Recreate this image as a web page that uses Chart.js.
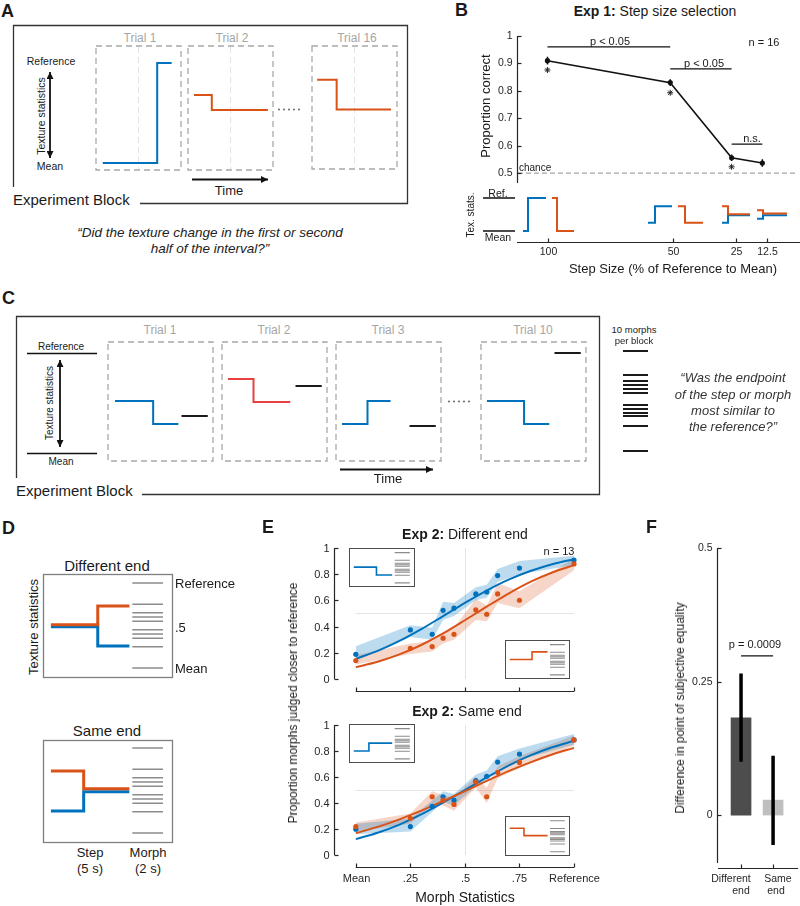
<!DOCTYPE html>
<html>
<head>
<meta charset="utf-8">
<script src="https://cdn.jsdelivr.net/npm/chart.js@4.4.1/dist/chart.umd.min.js"></script>
<style>
body { margin: 0; background: #fff; }
#fig { position: relative; width: 800px; height: 906px; overflow: hidden; background: #fff;
  font-family: "Liberation Sans", Arial, Helvetica, sans-serif; color: #1a1a1a; }
#fig canvas, #fig svg, .t, .inset { position: absolute; }
.t { white-space: nowrap; line-height: 1; }
.inset { border: 1.5px solid #4d4d4d; background: #fff; box-sizing: border-box; }
</style>
</head>
<body>
<div id="fig">
<svg width="800" height="906" style="left:0;top:0">
  <defs>
    <marker id="ah" markerUnits="userSpaceOnUse" viewBox="0 0 10 10" refX="10" refY="5"
      markerWidth="8" markerHeight="7" orient="auto-start-reverse">
      <path d="M0 0L10 5L0 10z" fill="#111"/>
    </marker>
  </defs>
  <g fill="none" stroke="#333" stroke-width="1.3">
    <path d="M13.5 187V25.5H407.5V203.5H140"/>
    <path d="M16.5 478V316.5H599.5V494.5H142"/>
  </g>
  <g fill="none" stroke="#a8a8a8" stroke-width="1.3" stroke-dasharray="6 4">
    <rect x="96" y="46" width="85" height="124"/>
    <rect x="188" y="46" width="85" height="124"/>
    <rect x="312" y="46" width="85" height="123"/>
    <rect x="108" y="342" width="105" height="119"/>
    <rect x="222" y="342" width="105" height="119"/>
    <rect x="336" y="342" width="105" height="119"/>
    <rect x="481" y="342" width="105" height="119"/>
  </g>
  <path d="M138.5 47V169M230.5 47V169M354.5 47V168" stroke="#e3e3e3" stroke-width="1" stroke-dasharray="6 4"/>
  <path d="M279 109.5H304M449 401.5H474" stroke="#555" stroke-width="1.8" stroke-linecap="round" stroke-dasharray="0 5"/>
  <g stroke="#111" stroke-width="1.8" fill="none">
    <line x1="50" y1="72" x2="50" y2="158" marker-start="url(#ah)" marker-end="url(#ah)"/>
    <line x1="192" y1="179.5" x2="268" y2="179.5" marker-end="url(#ah)"/>
    <line x1="60" y1="360" x2="60" y2="447" marker-start="url(#ah)" marker-end="url(#ah)"/>
    <line x1="340" y1="469.5" x2="433" y2="469.5" marker-end="url(#ah)"/>
  </g>
  <path d="M27 353.5H97M27 453.5H97M483 198H515M483 231H515" stroke="#111" stroke-width="1.5"/>
  <g fill="none" stroke="#7f7f7f" stroke-width="1.3">
    <rect x="43.5" y="574.5" width="129" height="103"/>
    <rect x="43.5" y="740.5" width="129" height="102"/>
  </g>
</svg>
</div>
<script>
// ---- data ----
// A: trials (time as fraction of trial, 0 = Mean, 1 = Reference)
const aStart = [0.08, 0.07, 0.06];
const aStep = [0.72, 0.28, 0.29];
const aEnd = [0.89, 0.94, 0.93];
const aBefore = [0, 0.68, 0.83];
const aAfter = [1, 0.53, 0.53];

// B: step size selection
const bStepSize = [100, 50, 25, 12.5];
const bTickLabels = ['100', '50', '25', '12.5'];
const bCorrect = [0.91, 0.83, 0.556, 0.537];
const bErr = [0.014, 0.012, 0.012, 0.014];
const bStarAt = [0.876, 0.793, 0.523];
const bSigFrom = [100, 50, 25];
const bSigTo = [50, 25, 12.5];
const bSigY = [0.96, 0.88, 0.606];
const bYTicks = [0.5, 0.6, 0.7, 0.8, 0.9, 1];
const bYLabels = ['0.5', '0.6', '0.7', '0.8', '0.9', '1'];
const bIconBlueX = [[110, 108, 100.8], [60, 57.2, 50.4], [30.4, 28, 19.2], [16.4, 14, 4.4]];
const bIconOrangeX = [[98.4, 96.4, 89.6], [48, 45.2, 38], [30.4, 28, 19.2], [16.4, 14, 4.4]];
const bIconBlue = [[0, 1], [0.25, 0.75], [0.25, 0.48], [0.375, 0.48]];
const bIconOrange = [[1, 0], [0.75, 0.25], [0.75, 0.51], [0.625, 0.53]];

// C: trials
const cStart = [0.067, 0.057, 0.057, 0.057];
const cStep = [0.43, 0.30, 0.30, 0.41];
const cEnd = [0.67, 0.65, 0.52, 0.65];
const cBefore = [0.52, 0.74, 0.29, 0.52];
const cAfter = [0.29, 0.51, 0.52, 0.29];
const cMorph = [0.37, 0.67, 0.27, 1.0];
const cMorphT = [0.70, 0.95];
const blockMorphs = [1, 0.76, 0.70, 0.66, 0.62, 0.58, 0.46, 0.42, 0.38, 0.35, 0.25, 0];

// D: conditions
const dStep = [0.42, 0.31];
const dOrange = [[0.51, 0.73], [0.73, 0.52]];
const dBlue = [[0.485, 0.26], [0.26, 0.485]];

// E: psychometric data
const morphX = [0, 0.25, 0.35, 0.4, 0.45, 0.55, 0.6, 0.65, 0.75, 1];
const eXTicks = [0, 0.25, 0.5, 0.75, 1];
const eXLabels = ['Mean', '.25', '.5', '.75', 'Reference'];
const eYTicks = [0, 0.2, 0.4, 0.6, 0.8, 1];
const eYLabels = ['0', '0.2', '0.4', '0.6', '0.8', '1'];
const fitX = [0, 0.1, 0.2, 0.3, 0.4, 0.5, 0.6, 0.7, 0.8, 0.9, 1];

const diffBlue = [0.188, 0.374, 0.341, 0.524, 0.540, 0.649, 0.664, 0.789, 0.847, 0.908];
const diffBlueLo = [0.145, 0.32, 0.30, 0.45, 0.48, 0.60, 0.62, 0.74, 0.80, 0.87];
const diffBlueHi = [0.25, 0.41, 0.39, 0.59, 0.58, 0.70, 0.72, 0.84, 0.90, 0.94];
const diffBlueFit = [0.153, 0.214, 0.290, 0.380, 0.480, 0.581, 0.675, 0.758, 0.824, 0.876, 0.914];
const diffOrange = [0.140, 0.234, 0.247, 0.311, 0.341, 0.527, 0.494, 0.649, 0.601, 0.878];
const diffOrangeLo = [0.11, 0.19, 0.21, 0.27, 0.30, 0.45, 0.44, 0.58, 0.54, 0.83];
const diffOrangeHi = [0.18, 0.27, 0.29, 0.35, 0.39, 0.61, 0.56, 0.73, 0.67, 0.92];
const diffOrangeFit = [0.090, 0.131, 0.187, 0.259, 0.347, 0.448, 0.552, 0.652, 0.741, 0.813, 0.869];

const sameBlue = [0.198, 0.219, 0.374, 0.448, 0.422, 0.572, 0.605, 0.715, 0.776, 0.885];
const sameBlueLo = [0.16, 0.18, 0.33, 0.41, 0.38, 0.53, 0.57, 0.66, 0.73, 0.85];
const sameBlueHi = [0.24, 0.28, 0.42, 0.49, 0.47, 0.62, 0.65, 0.76, 0.82, 0.93];
const sameBlueFit = [0.122, 0.171, 0.234, 0.312, 0.403, 0.5, 0.597, 0.688, 0.766, 0.829, 0.878];
const sameOrange = [0.219, 0.282, 0.448, 0.422, 0.389, 0.562, 0.448, 0.636, 0.712, 0.885];
const sameOrangeLo = [0.18, 0.24, 0.39, 0.38, 0.34, 0.52, 0.40, 0.59, 0.67, 0.84];
const sameOrangeHi = [0.25, 0.32, 0.49, 0.46, 0.44, 0.60, 0.52, 0.68, 0.76, 0.92];
const sameOrangeFit = [0.168, 0.216, 0.274, 0.341, 0.415, 0.492, 0.570, 0.645, 0.713, 0.773, 0.824];

// E insets
const insetStep = [0.42, 0.42, 0.30, 0.29];
const insetBefore = [0.52, 0.51, 0.26, 0.76];
const insetAfter = [0.26, 0.76, 0.52, 0.52];

// F: PSE difference
const fPos = [1, 2];
const fXLabels = [['Different', 'end'], ['Same', 'end']];
const fPse = [0.182, 0.028];
const fErrLo = [0.10, -0.056];
const fErrHi = [0.265, 0.111];
const fSig = 0.298;
const fYTicks = [0, 0.25, 0.5];
const fYLabels = ['0', '0.25', '0.5'];

// ---- styles ----
const BLUE = '#0072bd', ORANGE = '#d95319', RED = '#e8403f';
const BLUE_BAND = 'rgba(0,114,189,0.26)', ORANGE_BAND = 'rgba(217,83,25,0.24)';

// matlab-like axes: lines only over the tick span, ticks pointing inward
const matAxes = {
  id: 'matAxes',
  beforeDatasetsDraw(chart, args, o) {
    const { ctx, scales: { x, y } } = chart;
    ctx.save();
    ctx.strokeStyle = '#e4e4e4';
    ctx.lineWidth = 1;
    (o.gridX || []).forEach(v => {
      const p = Math.round(x.getPixelForValue(v)) + 0.5;
      ctx.beginPath(); ctx.moveTo(p, y.getPixelForValue(o.y.from)); ctx.lineTo(p, y.getPixelForValue(o.y.to)); ctx.stroke();
    });
    (o.gridY || []).forEach(v => {
      const p = Math.round(y.getPixelForValue(v)) + 0.5;
      ctx.beginPath(); ctx.moveTo(x.getPixelForValue(o.x.from), p); ctx.lineTo(x.getPixelForValue(o.x.to), p); ctx.stroke();
    });
    ctx.restore();
  },
  afterDraw(chart, args, o) {
    const { ctx, chartArea: a, scales: { x, y } } = chart;
    ctx.save();
    ctx.strokeStyle = '#262626';
    ctx.fillStyle = '#262626';
    ctx.lineWidth = 1.2;
    ctx.font = (o.font || 11) + 'px "Liberation Sans", Arial, sans-serif';
    const seg = (x0, y0, x1, y1) => { ctx.beginPath(); ctx.moveTo(x0, y0); ctx.lineTo(x1, y1); ctx.stroke(); };
    if (o.y) {
      const X = Math.round(a.left) + 0.5;
      seg(X, y.getPixelForValue(o.y.from), X, y.getPixelForValue(o.y.to));
      ctx.textAlign = 'right';
      ctx.textBaseline = 'middle';
      o.y.ticks.forEach((v, i) => {
        const p = Math.round(y.getPixelForValue(v)) + 0.5;
        seg(X, p, X + 4, p);
        if (o.y.labels) ctx.fillText(o.y.labels[i], X - 5, p);
      });
    }
    if (o.x) {
      const Y = Math.round(a.bottom) - 0.5;
      seg(x.getPixelForValue(o.x.from), Y, x.getPixelForValue(o.x.to), Y);
      ctx.textAlign = 'center';
      ctx.textBaseline = 'top';
      o.x.ticks.forEach((v, i) => {
        const p = Math.round(x.getPixelForValue(v)) + 0.5;
        seg(p, Y, p, Y - 4);
        if (o.x.labels) ctx.fillText(o.x.labels[i], p, Y + (o.x.gap || 6));
      });
    }
    ctx.restore();
  }
};

const fig = document.getElementById('fig');

function mk(parent, box, range, datasets, pad, axes, type) {
  const c = document.createElement('canvas');
  c.width = box[2];
  c.height = box[3];
  c.style.left = box[0] + 'px';
  c.style.top = box[1] + 'px';
  parent.appendChild(c);
  return new Chart(c, {
    type: type || 'line',
    data: { datasets },
    options: {
      responsive: false,
      animation: false,
      events: [],
      layout: { padding: pad || 0 },
      plugins: { legend: { display: false }, tooltip: { enabled: false }, matAxes: axes || {} },
      scales: {
        x: { type: 'linear', display: false, offset: false, min: range[0], max: range[1], reverse: !!range[4] },
        y: { type: 'linear', display: false, min: range[2], max: range[3] }
      }
    },
    plugins: [matAxes]
  });
}

const L = (pts, color, w, extra) => Object.assign({
  type: 'line', data: pts, borderColor: color, borderWidth: w, pointRadius: 0,
  fill: false, tension: 0, clip: false
}, extra || {});
const xy = (xs, ys) => xs.map((x, i) => ({ x, y: ys[i] }));
const step = (t0, ts, t1, a, b) => [{ x: t0, y: a }, { x: ts, y: a }, { x: ts, y: b }, { x: t1, y: b }];
const hl = (vals, x0, x1) => vals.flatMap(v => [{ x: x0, y: v }, { x: x1, y: v }, { x: x1, y: null }]);

// ---- A ----
const aBoxes = [[96, 46, 85, 124], [188, 46, 85, 124], [312, 46, 85, 123]];
const aColor = [BLUE, ORANGE, ORANGE];
aBoxes.forEach((b, i) => mk(fig, b, [0, 1, -0.07, 1.17],
  [L(step(aStart[i], aStep[i], aEnd[i], aBefore[i], aAfter[i]), aColor[i], 2)]));

// ---- B ----
const B_X = [-0.8, 112.4];
mk(fig, [440, 25, 360, 165], [B_X[0], B_X[1], 0.464, 1, true], [
  L(bSigFrom.flatMap((f, i) => [{ x: f, y: bSigY[i] }, { x: bSigTo[i], y: bSigY[i] }, { x: bSigTo[i], y: null }]), '#111', 1.2),
  L(xy(bStepSize, bCorrect), '#111', 1.6, { pointRadius: 2.6, pointBackgroundColor: '#111', pointBorderWidth: 0 }),
  L(bStepSize.flatMap((s, i) => [{ x: s, y: bCorrect[i] - bErr[i] }, { x: s, y: bCorrect[i] + bErr[i] }, { x: s, y: null }]), '#111', 1.5),
  L(xy(bStepSize.slice(0, 3), bStarAt), '#222', 0, { showLine: false, pointStyle: 'star', pointRadius: 3, pointBorderColor: '#222', pointBorderWidth: 1 }),
  L([{ x: B_X[0], y: 0.5 }, { x: B_X[1], y: 0.5 }], '#a6a6a6', 1.2, { borderDash: [5, 3] })
], { left: 77, right: 0, top: 11, bottom: 7 },
  { font: 10.5, y: { from: 0.464, to: 1, ticks: bYTicks, labels: bYLabels } });

const bIcons = [];
bStepSize.forEach((s, i) => {
  const bx = bIconBlueX[i], ox = bIconOrangeX[i];
  bIcons.push(L(step(ox[0], ox[1], ox[2], bIconOrange[i][0], bIconOrange[i][1]), ORANGE, 2));
  bIcons.push(L(step(bx[0], bx[1], bx[2], bIconBlue[i][0], bIconBlue[i][1]), BLUE, 2));
});
mk(fig, [440, 185, 360, 80], [B_X[0], B_X[1], -0.36, 1.24, true], bIcons,
  { left: 77, right: 0, top: 5, bottom: 22 },
  { font: 10.5, x: { from: B_X[1], to: B_X[0], ticks: bStepSize, labels: bTickLabels, gap: 4 } });

// ---- C ----
const cBoxes = [[108, 342, 105, 119], [222, 342, 105, 119], [336, 342, 105, 119], [481, 342, 105, 119]];
const cColor = [BLUE, RED, BLUE, BLUE];
cBoxes.forEach((b, i) => mk(fig, b, [0, 1, -0.08, 1.11], [
  L(step(cStart[i], cStep[i], cEnd[i], cBefore[i], cAfter[i]), cColor[i], 2),
  L([{ x: cMorphT[0], y: cMorph[i] }, { x: cMorphT[1], y: cMorph[i] }], '#1a1a1a', 2)
]));
mk(fig, [623, 345, 25, 112], [0, 1, -0.06, 1.06], [L(hl(blockMorphs, 0, 1), '#1a1a1a', 2)]);

// ---- D ----
const dBoxes = [[44, 575, 128, 102], [44, 741, 128, 101]];
const dRange = [[0, 1, -0.106, 1.094], [0, 1, -0.106, 1.082]];
dBoxes.forEach((b, i) => mk(fig, b, dRange[i], [
  L(step(0.054, dStep[i], 0.667, dOrange[i][0], dOrange[i][1]), ORANGE, 3),
  L(step(0.054, dStep[i], 0.667, dBlue[i][0], dBlue[i][1]), BLUE, 3),
  L(hl(morphX, 0.69, 0.93), '#8c8c8c', 1.4)
]));

// ---- E ----
function eSets(blue, blueLo, blueHi, blueFit, orange, orLo, orHi, orFit) {
  const pts = c => ({ showLine: false, pointRadius: 2.6, pointBackgroundColor: c, pointBorderWidth: 0, order: 1 });
  return [
    L(xy(morphX, orange), 'transparent', 0, pts(ORANGE)),
    L(xy(morphX, blue), 'transparent', 0, pts(BLUE)),
    L(xy(fitX, orFit), ORANGE, 2, { cubicInterpolationMode: 'monotone', order: 2 }),
    L(xy(fitX, blueFit), BLUE, 2, { cubicInterpolationMode: 'monotone', order: 2 }),
    L(xy(morphX, blueHi), 'transparent', 0, { fill: '+1', backgroundColor: BLUE_BAND, order: 3 }),
    L(xy(morphX, blueLo), 'transparent', 0, { order: 3 }),
    L(xy(morphX, orHi), 'transparent', 0, { fill: '+1', backgroundColor: ORANGE_BAND, order: 3 }),
    L(xy(morphX, orLo), 'transparent', 0, { order: 3 })
  ];
}
const eAxes = lbl => ({
  y: { from: 0, to: 1, ticks: eYTicks, labels: eYLabels },
  x: { from: 0, to: 1, ticks: eXTicks, labels: lbl, gap: 6 },
  gridX: [0.5], gridY: [0.5]
});
mk(fig, [220, 540, 400, 165], [-0.1, 1, -0.1, 1],
  eSets(diffBlue, diffBlueLo, diffBlueHi, diffBlueFit, diffOrange, diffOrangeLo, diffOrangeHi, diffOrangeFit),
  { left: 114, right: 46, top: 8, bottom: 13 }, eAxes(null));
mk(fig, [220, 717, 400, 185], [-0.1, 1, -0.1, 1],
  eSets(sameBlue, sameBlueLo, sameBlueHi, sameBlueFit, sameOrange, sameOrangeLo, sameOrangeHi, sameOrangeFit),
  { left: 114, right: 46, top: 8, bottom: 34 }, eAxes(eXLabels));

const insetBoxes = [[349, 548, 66, 39], [505, 640, 65, 39], [349, 724, 66, 39], [505, 816, 65, 40]];
const insetColor = [BLUE, ORANGE, BLUE, ORANGE];
insetBoxes.forEach((b, i) => {
  const d = document.createElement('div');
  d.className = 'inset';
  d.style.cssText = `left:${b[0]}px;top:${b[1]}px;width:${b[2]}px;height:${b[3]}px`;
  fig.appendChild(d);
  mk(d, [0, 0, b[2] - 3, b[3] - 3], [0, 1, -0.07, 1.12], [
    L(step(0.06, insetStep[i], 0.67, insetBefore[i], insetAfter[i]), insetColor[i], 1.6),
    L(hl(morphX, 0.71, 0.95), '#8c8c8c', 1.1)
  ]);
});

// ---- F ----
mk(fig, [600, 540, 200, 366], [0.25, 2.84, -0.101, 0.5], [
  L([{ x: fPos[0], y: fSig }, { x: fPos[1], y: fSig }], '#111', 1.2, { order: 0 }),
  L(fPos.flatMap((p, i) => [{ x: p, y: fErrLo[i] }, { x: p, y: fErrHi[i] }, { x: p, y: null }]), '#000', 3.5, { order: 1 }),
  { type: 'bar', data: xy(fPos, fPse), backgroundColor: ['#4d4d4d', '#bfbfbf'], barThickness: 20, order: 2 }
], { left: 117, right: 0, top: 8, bottom: 37 },
  { font: 10.5, y: { from: -0.09, to: 0.5, ticks: fYTicks, labels: fYLabels },
    x: { from: 0.28, to: 2.78, ticks: fPos } }, 'bar');

// ---- text ----
function T(html, x, y, o = {}) {
  const d = document.createElement('div');
  d.className = 't';
  d.innerHTML = html;
  const tx = o.a === 'l' ? '0' : o.a === 'r' ? '-100%' : '-50%';
  d.style.cssText = `left:${x}px;top:${y}px;font-size:${o.s || 12}px;` +
    (o.b ? 'font-weight:bold;' : '') + (o.i ? 'font-style:italic;' : '') + (o.c ? `color:${o.c};` : '') +
    (o.r ? 'writing-mode:vertical-rl;transform:translate(-50%,-50%) rotate(180deg)' : `transform:translate(${tx},-50%)`);
  fig.appendChild(d);
}
const GRAY = '#a6a6a6';

// A
T('A', 1, 11, { s: 18, b: 1, a: 'l' });
T('Trial 1', 140, 38, { s: 12, c: GRAY });
T('Trial 2', 232, 38, { s: 12, c: GRAY });
T('Trial 16', 357, 38, { s: 12, c: GRAY });
T('Reference', 51, 61, { s: 10.5 });
T('Mean', 50, 166, { s: 10.5 });
T('Texture statistics', 41, 116, { s: 10.5, r: 1 });
T('Time', 229, 190, { s: 13 });
T('Experiment Block', 13, 199, { s: 15, a: 'l' });
T('“Did the texture change in the first or second', 210, 233, { s: 13.5, i: 1, c: '#222' });
T('half of the interval?”', 210, 249, { s: 13.5, i: 1, c: '#222' });

// B
T('B', 455, 10, { s: 18, b: 1, a: 'l' });
T('<b>Exp 1:</b> Step size selection', 655, 11, { s: 14 });
T('Proportion correct', 485, 106, { s: 13, r: 1 });
T('n = 16', 764, 42, { s: 11 });
T('p &lt; 0.05', 610, 41, { s: 11 });
T('p &lt; 0.05', 704, 63, { s: 11 });
T('n.s.', 752, 138, { s: 11 });
T('chance', 519, 168, { s: 10, a: 'l' });
T('Ref.', 498, 193, { s: 10.5 });
T('Mean', 498, 237, { s: 10.5 });
T('Tex. stats.', 471, 215, { s: 10, r: 1 });
T('Step Size (% of Reference to Mean)', 673, 268, { s: 13 });

// C
T('C', 2, 298, { s: 18, b: 1, a: 'l' });
T('Trial 1', 160, 330, { s: 12, c: GRAY });
T('Trial 2', 274, 330, { s: 12, c: GRAY });
T('Trial 3', 388, 330, { s: 12, c: GRAY });
T('Trial 10', 533, 330, { s: 12, c: GRAY });
T('Reference', 61, 347, { s: 10 });
T('Mean', 61, 462, { s: 10 });
T('Texture statistics', 50, 403, { s: 10, r: 1 });
T('Time', 388, 478, { s: 13 });
T('Experiment Block', 16, 490, { s: 15, a: 'l' });
T('10 morphs', 634, 330, { s: 9.5 });
T('per block', 634, 341, { s: 9.5 });
T('“Was the endpoint', 733, 377, { s: 13, i: 1, c: '#333' });
T('of the step or morph', 733, 394, { s: 13, i: 1, c: '#333' });
T('most similar to', 733, 410, { s: 13, i: 1, c: '#333' });
T('the reference?”', 733, 426, { s: 13, i: 1, c: '#333' });

// D
T('D', 2, 528, { s: 18, b: 1, a: 'l' });
T('Different end', 107, 565, { s: 15 });
T('Texture statistics', 33, 627, { s: 13, r: 1 });
T('Reference', 175, 583, { s: 13, a: 'l' });
T('.5', 175, 627, { s: 13, a: 'l' });
T('Mean', 175, 668, { s: 13, a: 'l' });
T('Same end', 107, 730, { s: 15 });
T('Step', 90, 852, { s: 13 });
T('(5 s)', 90, 868, { s: 13 });
T('Morph', 148, 852, { s: 13 });
T('(2 s)', 148, 868, { s: 13 });

// E
T('E', 262, 527, { s: 18, b: 1, a: 'l' });
T('<b>Exp 2:</b> Different end', 465, 534, { s: 14 });
T('n = 13', 559, 551, { s: 11 });
T('<b>Exp 2:</b> Same end', 467, 711, { s: 14 });
T('Proportion morphs judged closer to reference', 293, 703, { s: 12, r: 1 });
T('Morph Statistics', 465, 897, { s: 14 });

// F
T('F', 646, 527, { s: 18, b: 1, a: 'l' });
T('Difference in point of subjective equality', 680, 708, { s: 12, r: 1 });
T('p = 0.0009', 755, 644, { s: 11 });
T(fXLabels[0][0], 731, 878, { s: 10.5, c: '#262626' });
T(fXLabels[0][1], 741, 890, { s: 10.5, c: '#262626' });
T(fXLabels[1][0], 778, 878, { s: 10.5, c: '#262626' });
T(fXLabels[1][1], 776, 890, { s: 10.5, c: '#262626' });
</script>
</body>
</html>
